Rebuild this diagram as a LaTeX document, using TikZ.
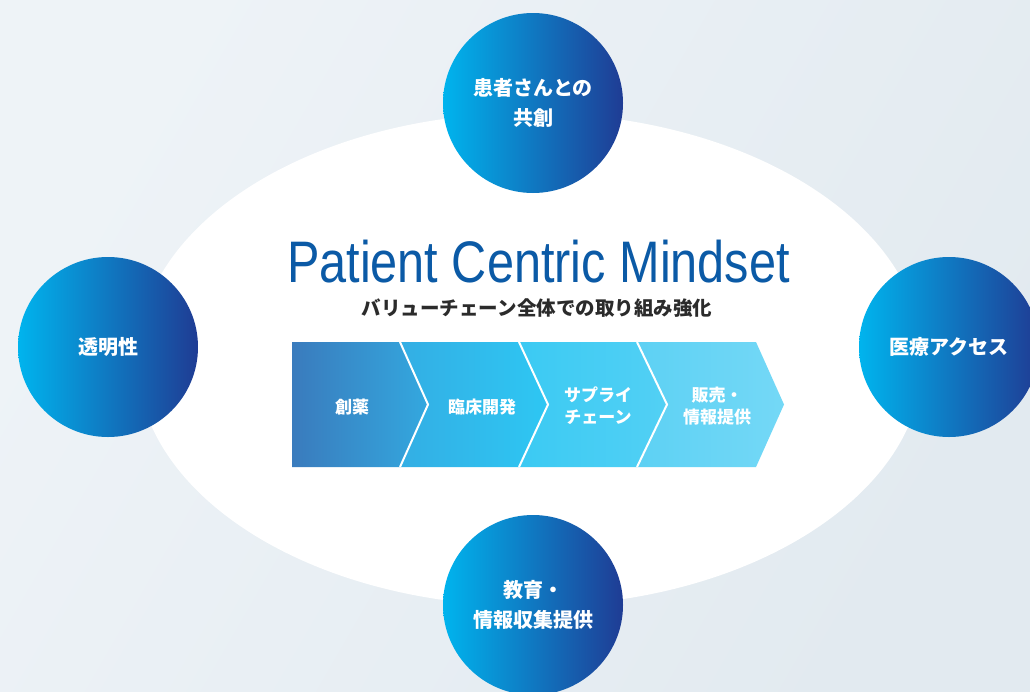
\documentclass[tikz,border=0pt]{standalone}
\usepackage{fontspec}
\usepackage{graphicx}
\setmainfont{Liberation Sans}
\newfontfamily\jp{Noto Sans CJK JP}
\definecolor{bgL}{HTML}{EEF3F7}
\definecolor{bgR}{HTML}{E2EAF0}
\definecolor{cA}{HTML}{00B4EE}
\definecolor{cB}{HTML}{0873BB}
\definecolor{cC}{HTML}{1F3C94}
\definecolor{titleblue}{HTML}{0B5AA6}
\definecolor{subgray}{HTML}{2B2B2B}
\definecolor{s1a}{HTML}{3A7BBD}
\definecolor{s1b}{HTML}{33A8DF}
\definecolor{s2a}{HTML}{33AEE4}
\definecolor{s2b}{HTML}{2EC7F3}
\definecolor{s3a}{HTML}{3BCAF3}
\definecolor{s3b}{HTML}{52D0F4}
\definecolor{s4a}{HTML}{5DD1F4}
\definecolor{s4b}{HTML}{74D8F6}
\tikzset{
  bubble/.style={circle, minimum size=180pt, inner sep=0pt, left color=cA, middle color=cB, right color=cC,
     text=white, align=center, font=\jp\bfseries\fontsize{20}{30}\selectfont},
  seglabel/.style={text=white, align=center, inner sep=0pt, font=\jp\bfseries\fontsize{17}{22}\selectfont},
  sepline/.style={white, line width=2pt, line join=miter}
}
\begin{document}
\begin{tikzpicture}[x=1pt,y=-1pt]
\useasboundingbox (0,0) rectangle (1030,691);
\shade[left color=bgL, right color=bgR, shading angle=60] (0,0) rectangle (1030,691);
\fill[white] (530,359.5) ellipse [x radius=393, y radius=246.5];

% title
\node[anchor=base, inner sep=0pt, text=titleblue, font=\fontsize{58.6}{60}\selectfont] (title) at (538.5,282)
  {\scalebox{0.83}[1]{Patient Centric Mindset}};
\node[inner sep=0pt, text=subgray, font=\jp\bfseries\fontsize{19.5}{22}\selectfont] (subtitle) at (537,308)
  {バリューチェーン全体での取り組み強化};

% chevrons
\shade[left color=s1a, right color=s1b] (292,342)--(400,342)--(428,404.5)--(400,467)--(292,467)--cycle;
\shade[left color=s2a, right color=s2b] (400,342)--(519,342)--(548,404.5)--(519,467)--(400,467)--(428,404.5)--cycle;
\shade[left color=s3a, right color=s3b] (519,342)--(637,342)--(667,404.5)--(637,467)--(519,467)--(548,404.5)--cycle;
\shade[left color=s4a, right color=s4b] (637,342)--(756,342)--(784,404.5)--(756,467)--(637,467)--(667,404.5)--cycle;
\draw[sepline] (400,342)--(428,404.5)--(400,467);
\draw[sepline] (519,342)--(548,404.5)--(519,467);
\draw[sepline] (637,342)--(667,404.5)--(637,467);

\node[seglabel] (s1) at (352,407) {創薬};
\node[seglabel] (s2) at (482,407) {臨床開発};
\node[seglabel] (s3) at (598,406) {サプライ\\チェーン};
\node[seglabel] (s4) at (717,406) {販売・\\情報提供};

% circles
\node[bubble] (top) at (533,103) {患者さんとの\\共創};
\node[bubble] (left) at (108,347) {透明性};
\node[bubble] (right) at (949,347) {医療アクセス};
\node[bubble] (bottom) at (533,605) {教育・\\情報収集提供};
\end{tikzpicture}
\end{document}
